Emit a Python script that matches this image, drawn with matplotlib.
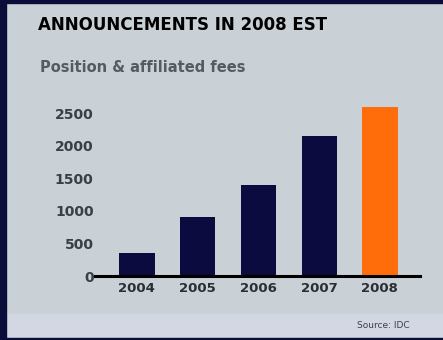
import matplotlib
matplotlib.use("Agg")
import matplotlib.pyplot as plt
from matplotlib.patches import Rectangle

# data
years = ["2004", "2005", "2006", "2007", "2008"]
values = [350, 900, 1400, 2150, 2600]
bar_colors = ["#0b0b3f", "#0b0b3f", "#0b0b3f", "#0b0b3f", "#ff6c0a"]
yticks = [0, 500, 1000, 1500, 2000, 2500]

fig = plt.figure(figsize=(4.43, 3.40), dpi=100)
fig.patch.set_facecolor("#c9d1d6")

# dark frame on the left / top / bottom, lighter strip at the bottom
fig.patches.append(Rectangle((0, 0), 6 / 443, 1, transform=fig.transFigure,
                             color="#0a0c3a", zorder=5))
fig.patches.append(Rectangle((0, 1 - 3 / 340), 1, 3 / 340, transform=fig.transFigure,
                             color="#0a0c3a", zorder=5))
fig.patches.append(Rectangle((0, 0), 1, 2 / 340, transform=fig.transFigure,
                             color="#0a0c3a", zorder=5))
fig.patches.append(Rectangle((6 / 443, 2 / 340), 1, 24 / 340, transform=fig.transFigure,
                             color="#d3d7e3", zorder=1))

ax = fig.add_axes([95 / 443, 0.188, 325 / 443, 0.537])
ax.set_facecolor("none")

x = list(range(len(years)))
ax.bar(x, values, width=0.58, color=bar_colors, zorder=3)

ax.set_xlim(-0.69, 4.66)
ax.set_ylim(0, 2800)
ax.set_yticks(yticks)
ax.set_yticklabels([str(t) for t in yticks], color="#3a3f44", fontsize=10, fontweight="bold")
ax.set_xticks(x)
ax.set_xticklabels(years, color="#2a2f34", fontsize=9.5, fontweight="bold")
ax.tick_params(length=0, pad=1)
ax.tick_params(axis="x", pad=4)
for s in ["left", "right", "top"]:
    ax.spines[s].set_visible(False)
ax.spines["bottom"].set_linewidth(2.2)
ax.spines["bottom"].set_color("black")
ax.spines["bottom"].set_zorder(4)

fig.text(38 / 443, 1 - 25 / 340, "ANNOUNCEMENTS IN 2008 EST", fontsize=12,
         fontweight="heavy", color="black", va="center", ha="left")
fig.text(40 / 443, 1 - 67 / 340, "Position & affiliated fees", fontsize=10.5,
         fontweight="semibold", color="#555b60", va="center", ha="left")
fig.text(410 / 443, 1 - 326 / 340, "Source: IDC", fontsize=6.5,
         color="#3a3f50", va="center", ha="right")

fig.savefig("out.png", dpi=100, facecolor=fig.get_facecolor())
